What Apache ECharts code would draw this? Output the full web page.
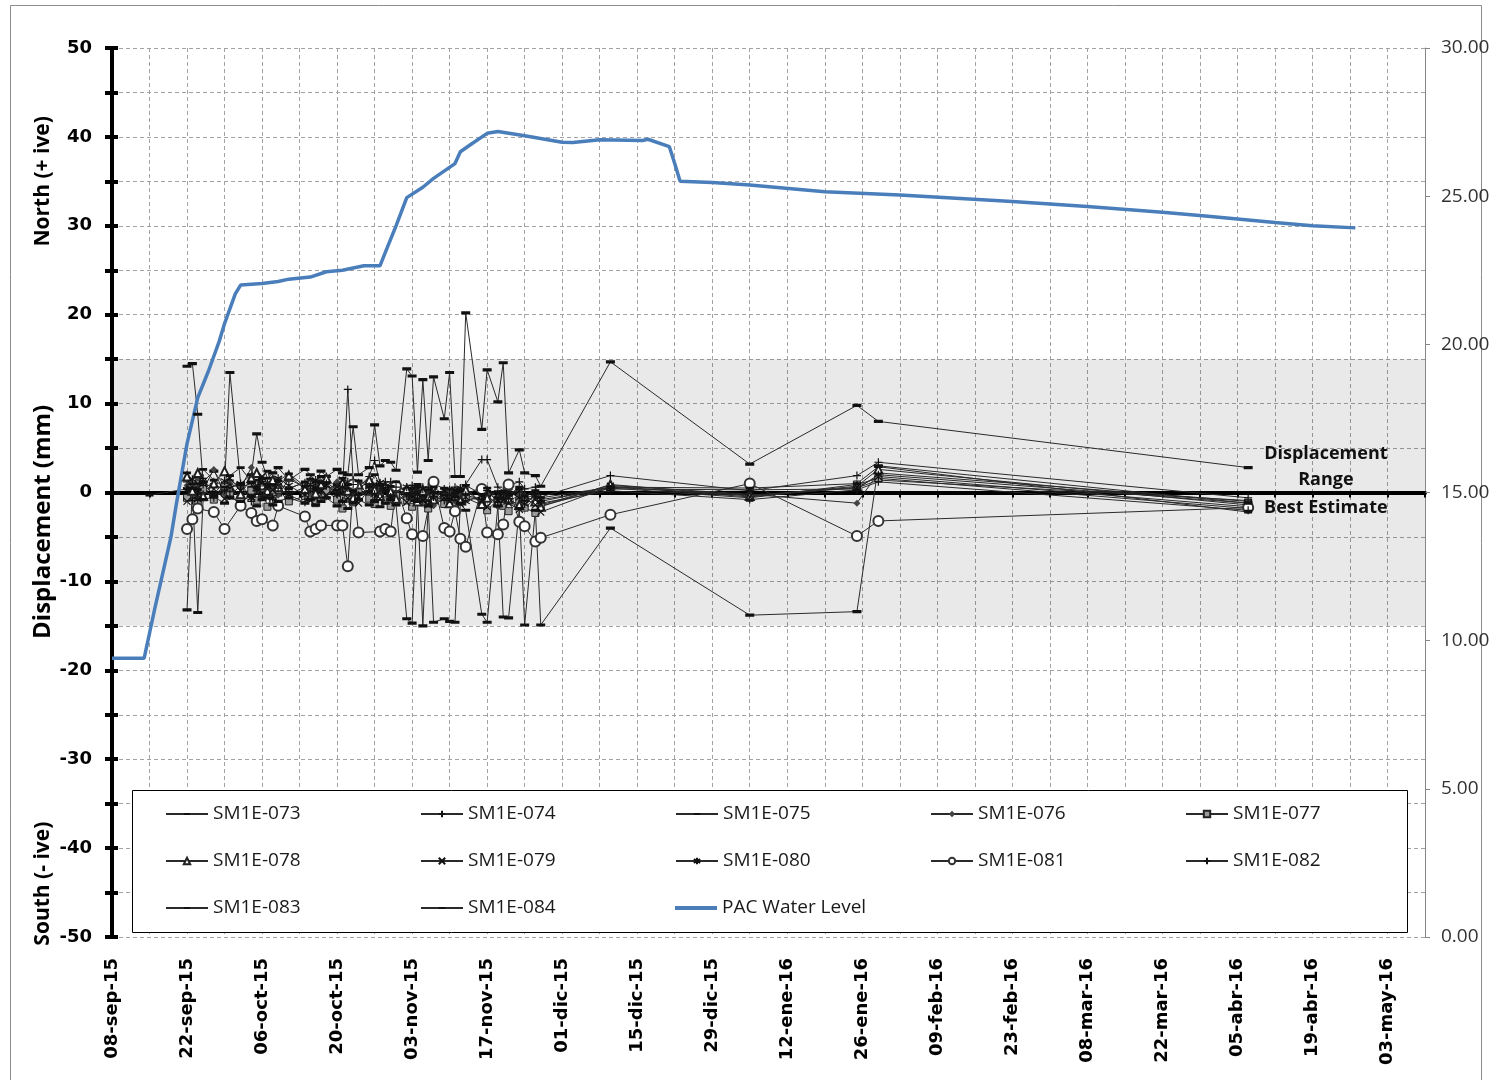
<!DOCTYPE html>
<html>
<head>
<meta charset="utf-8">
<script src="https://cdn.jsdelivr.net/npm/echarts/dist/echarts.min.js"></script>
<style>
  html, body { margin: 0; padding: 0; background: #fff; }
  #chart { width: 1497px; height: 1080px; }
</style>
</head>
<body>
<div id="chart"></div>
<script>
// ---- survey readings (displacement, mm) ----
const surveyDates = [
  '2015-09-15','2015-09-22','2015-09-23','2015-09-24','2015-09-25','2015-09-27','2015-09-29','2015-09-30','2015-10-02','2015-10-04',
  '2015-10-05','2015-10-06','2015-10-07','2015-10-08','2015-10-09','2015-10-11','2015-10-14','2015-10-15','2015-10-16','2015-10-17',
  '2015-10-18','2015-10-20','2015-10-21','2015-10-22','2015-10-23','2015-10-24','2015-10-26','2015-10-27','2015-10-28','2015-10-29',
  '2015-10-30','2015-10-31','2015-11-02','2015-11-03','2015-11-04','2015-11-05','2015-11-06','2015-11-07','2015-11-09','2015-11-10',
  '2015-11-11','2015-11-12','2015-11-13','2015-11-16','2015-11-17','2015-11-19','2015-11-20','2015-11-21','2015-11-23','2015-11-24',
  '2015-11-26','2015-11-27','2015-12-10','2016-01-05','2016-01-25','2016-01-29','2016-04-07'
];

const sm1e073 = [
  null, 14.2, 14.5, 8.8, 1.2, 2.4, 0.8, 13.5, 1.0, 2.0,
  6.6, 3.4, 1.6, 2.2, 2.8, 1.4, 2.6, 2.0, 1.2, 2.4,
  1.8, 2.6, 2.2, 2.0, 7.4, 2.0, 2.8, 7.6, 3.0, 3.6,
  3.4, 2.5, 13.9, 13.1, 2.3, 12.7, 3.6, 13.0, 8.3, 13.5,
  1.8, 1.8, 20.2, 7.1, 13.8, 10.2, 14.6, 2.2, 4.8, 2.2,
  1.9, 0.7, 14.7, 3.2, 9.8, 8.0, 2.8
];
const sm1e074 = [
  null, 1.2, 0.4, 2.0, 0.6, 1.0, 0.2, 1.4, 0.6, 1.0,
  0.4, 1.2, 0.8, 0.2, 0.9, 0.5, 1.1, 0.6, 0.2, 1.0,
  0.4, 0.8, 0.3, 11.6, 1.4, 0.6, 1.8, 3.6, 1.0, 0.4,
  1.2, 0.6, 0.2, 0.8, -0.2, 0.6, 0.2, 1.0, 0.4, -0.3,
  0.6, 0.2, 0.9, 3.7, 3.7, 0.6, 0.2, 0.8, 1.2, 0.4,
  0.6, -0.5, 1.9, 0.2, 1.9, 3.4, -0.6
];
const sm1e075 = [
  -0.3, 0.4, -0.6, 1.0, 0.2, -0.4, 0.8, 0.3, -0.5, 0.6,
  1.4, -0.2, 0.5, 0.9, -0.3, 0.4, 1.2, 0.1, -0.6, 0.7,
  0.3, 1.0, -0.2, 0.5, -0.8, 0.6, 1.1, 0.2, -0.4, 0.8,
  0.3, -0.5, 0.4, -0.9, 0.6, -0.3, 0.2, -1.0, 0.5, -0.6,
  0.3, -0.8, -0.2, 0.6, -0.4, 0.1, -1.1, -0.3, 0.4, -0.7,
  -0.2, -1.0, 0.6, -0.3, 0.5, 1.4, -0.9
];
const sm1e076 = [
  null, 0.8, -0.4, 1.6, 0.3, 2.6, -0.2, 1.0, 0.5, 2.8,
  0.2, -0.6, 1.0, 0.4, -0.3, 1.5, 0.6, -0.2, 0.8, 0.3,
  -0.5, 1.2, 0.6, -0.8, 0.3, 1.0, -0.4, 0.6, 0.2, -0.9,
  0.5, -0.3, -0.8, 0.2, -1.2, -0.4, 0.3, -1.5, -0.6, 0.2,
  -1.0, -0.4, 0.5, -1.2, -0.2, -1.6, -0.7, -1.0, -0.3, -1.8,
  -0.6, -1.4, 0.8, -0.2, -1.2, 2.2, -1.0
];
const sm1e077 = [
  null, -0.6, 0.9, -1.2, 0.4, -0.8, 0.6, -0.3, -1.4, 0.2,
  -0.9, 0.5, -1.6, -0.2, 0.3, -1.0, -0.4, 0.6, -1.2, -0.5,
  0.2, -0.8, -1.8, -0.3, -1.1, 0.4, -0.7, -1.3, -0.2, -0.9,
  -1.5, -0.4, -0.9, -1.6, -0.6, -1.1, -1.8, -0.5, -1.3, -0.8,
  -1.9, -1.0, -0.6, -1.4, -2.0, -0.8, -1.5, -2.1, -1.0, -1.7,
  -2.3, -1.5, 0.5, -0.6, 0.9, 1.6, -1.8
];
const sm1e078 = [
  null, 1.8, 0.2, 2.2, -0.4, 1.0, 2.4, 0.6, -0.2, 1.6,
  2.2, 0.8, 0.2, 1.4, 0.6, 1.9, 0.4, 1.2, -0.1, 0.9,
  1.6, 0.5, 1.1, 0.2, -0.6, 0.9, 1.4, 0.3, -0.4, 0.7,
  0.1, -0.7, 0.4, -0.3, -1.0, 0.2, -0.5, -0.8, -0.2, -1.2,
  -0.4, -0.9, 0.3, -1.3, -0.6, -1.1, -0.3, -0.8, -1.4, -0.5,
  -1.0, -1.6, 0.9, -0.4, 0.7, 2.6, -1.4
];
const sm1e079 = [
  null, -1.0, 0.6, -0.3, 1.2, 0.4, -0.7, 1.6, 0.2, -0.5,
  0.8, 1.8, -0.4, 0.3, 1.3, -0.2, 0.6, -0.9, 0.4, 1.1,
  -0.3, 0.6, 1.4, -0.6, 0.2, -1.2, 0.4, 0.9, -0.7, 0.2,
  -0.4, 0.5, -1.1, -0.3, 0.4, -0.9, -1.4, 0.2, -0.6, -1.0,
  0.2, -1.3, -0.5, -0.9, -1.6, -0.2, -0.8, -1.2, -1.9, -0.6,
  -1.4, -2.2, 0.7, -0.5, 0.6, 1.8, -1.6
];
const sm1e080 = [
  null, 0.3, 1.5, -0.8, 0.9, -0.2, 1.3, 0.5, 1.0, -0.6,
  0.4, 1.1, 0.7, -0.5, 1.6, 0.8, -0.3, 0.9, 1.4, 0.2,
  0.8, -0.2, 0.6, 1.2, 0.4, -0.5, 0.7, -0.2, 1.1, 0.5,
  -0.6, 0.3, 0.6, -0.5, -0.2, 0.4, -0.9, -0.3, 0.2, -0.7,
  -0.2, 0.5, -1.0, -0.4, 0.3, -0.9, -0.5, 0.1, -0.6, -1.3,
  -0.3, -0.8, 0.4, 0.3, 0.4, 2.0, -1.2
];
const sm1e081 = [
  null, -4.1, -3.0, -1.8, null, -2.2, -4.1, null, -1.5, -2.3,
  -3.2, -3.0, null, -3.7, -1.5, null, -2.7, -4.4, -4.1, -3.7,
  null, -3.7, -3.7, -8.3, 0.9, -4.5, null, null, -4.4, -4.1,
  -4.4, 0.7, -2.9, -4.7, null, -4.9, null, 1.2, -4.0, -4.4,
  -2.1, -5.2, -6.1, 0.4, -4.5, -4.7, -3.6, 0.9, -3.3, -3.8,
  -5.5, -5.1, -2.5, 1.0, -4.9, -3.2, -1.7
];
const sm1e082 = [
  null, 0.5, -0.9, 0.4, 1.6, -0.6, 0.3, -0.4, 0.8, -1.0,
  0.2, -0.5, 1.0, -0.8, 0.5, -0.3, -1.1, 0.4, 0.6, -0.6,
  1.0, -0.2, -0.9, 0.5, 0.9, -0.3, 0.2, -0.8, 0.5, 1.2,
  -0.5, 0.6, -0.4, 0.3, -0.7, -1.0, 0.6, -0.5, -0.9, 0.3,
  -0.6, 0.4, -0.3, -0.8, 0.2, -1.1, -0.2, -0.7, 0.3, -0.9,
  -0.5, -1.2, 0.2, -0.8, 0.3, 1.2, -2.0
];
const sm1e083 = [
  null, 2.2, 1.0, 0.3, 2.6, 1.4, 0.6, 1.9, 2.8, 1.2,
  0.5, 1.6, 2.4, 0.8, 1.3, 2.1, 0.7, 1.5, 0.4, 1.8,
  1.1, 0.3, 1.6, 0.9, 0.2, 1.3, 0.6, 2.0, 0.8, 0.1,
  0.7, 1.2, -0.2, 0.5, 0.9, -0.4, 0.3, 0.6, -0.3, 0.4,
  -0.5, 0.2, 0.8, -0.2, 0.5, -0.6, 0.1, -0.3, 0.6, -0.4,
  0.2, -0.6, 0.6, 0.5, 1.0, 2.9, -2.2
];
const sm1e084 = [
  null, -13.2, 0.5, -13.5, -0.8, -0.5, -1.2, -0.6, -1.0, -0.4,
  -1.5, -0.8, -0.6, -1.4, -1.0, -0.6, -1.2, -0.8, -1.4, -1.0,
  -0.6, -1.5, -1.0, -1.8, -1.2, -0.8, -1.4, -1.0, -1.6, -1.2,
  -0.8, -1.4, -14.2, -14.7, -1.0, -15.0, -1.5, -14.6, -14.2, -14.5,
  -14.6, -1.2, -2.0, -13.7, -14.6, -1.5, -14.0, -14.1, -1.8, -14.9,
  -2.0, -14.9, -4.0, -13.8, -13.4, 3.0, -1.2
];

// ---- PAC water level (right axis) ----
const pacDates = [
  '2015-09-08','2015-09-14','2015-09-15','2015-09-16','2015-09-19','2015-09-20','2015-09-22','2015-09-24','2015-09-26','2015-09-28',
  '2015-09-29','2015-10-01','2015-10-02','2015-10-06','2015-10-09','2015-10-11','2015-10-15','2015-10-18','2015-10-21','2015-10-25',
  '2015-10-28','2015-10-29','2015-10-31','2015-11-02','2015-11-05','2015-11-07','2015-11-11','2015-11-12','2015-11-14','2015-11-17',
  '2015-11-19','2015-11-24','2015-12-01','2015-12-03','2015-12-08','2015-12-16','2015-12-17','2015-12-21','2015-12-22','2015-12-23',
  '2015-12-29','2016-01-05','2016-01-19','2016-02-02','2016-02-23','2016-03-08','2016-03-22','2016-03-30','2016-04-12','2016-04-19',
  '2016-04-27'
];
const pacLevel = [
  9.41, 9.41, 10.25, 11.1, 13.5, 14.6, 16.65, 18.2, 19.1, 20.1,
  20.7, 21.7, 22.0, 22.05, 22.12, 22.2, 22.27, 22.45, 22.5, 22.65,
  22.65, 23.1, 24.0, 24.95, 25.3, 25.6, 26.1, 26.5, 26.75, 27.12,
  27.18, 27.04, 26.82, 26.81, 26.9, 26.88, 26.92, 26.67, 26.1, 25.5,
  25.46, 25.38, 25.15, 25.04, 24.82, 24.65, 24.46, 24.33, 24.11, 24.0,
  23.93
];

// ---- axes ----
const axisStart = '2015-09-08';
const axisEnd = '2016-05-10';
const dispTicks = [-50, 50, 10];     // min, max, labelled step
const levelTicks = [0, 30, 5];
const displacementRange = [-15, 15];

const DAY = 86400000;
const t0 = Date.parse(axisStart);
const toDay = s => Math.round((Date.parse(s) - t0) / DAY);
const MONTHS = ['ene','feb','mar','abr','may','jun','jul','ago','sep','oct','nov','dic'];
const pad = n => (n < 10 ? '0' : '') + n;
function dayLabel(d) {
  const dt = new Date(t0 + d * DAY);
  return pad(dt.getUTCDate()) + '-' + MONTHS[dt.getUTCMonth()] + '-' + String(dt.getUTCFullYear()).slice(2);
}

// marker shapes
const DASH = 'path://M0,0L0.01,0M0,8L0.01,8M0,2.6H8V5.4H0Z';
const PLUS = 'path://M4,0V8M0,4H8';
const CROSS = 'path://M0,0L8,8M8,0L0,8';
const STAR = 'path://M4,0V8M0,1.6L8,6.4M8,1.6L0,6.4';

const stroked = { color: '#111', borderColor: '#111', borderWidth: 1.2 };
const solidDash = { color: '#111', borderWidth: 0 };
const monuments = [
  { name: 'SM1E-073', values: sm1e073, symbol: DASH, size: 9, item: solidDash },
  { name: 'SM1E-074', values: sm1e074, symbol: PLUS, size: 8, item: stroked },
  { name: 'SM1E-075', values: sm1e075, symbol: DASH, size: 8, item: solidDash },
  { name: 'SM1E-076', values: sm1e076, symbol: 'diamond', size: 7, item: { color: '#444', borderWidth: 0 } },
  { name: 'SM1E-077', values: sm1e077, symbol: 'rect', size: 7, item: { color: '#9a9a9a', borderColor: '#222', borderWidth: 1 } },
  { name: 'SM1E-078', values: sm1e078, symbol: 'emptyTriangle', size: 8, item: { color: '#222', borderWidth: 1 } },
  { name: 'SM1E-079', values: sm1e079, symbol: CROSS, size: 7, item: stroked },
  { name: 'SM1E-080', values: sm1e080, symbol: STAR, size: 8, item: stroked },
  { name: 'SM1E-081', values: sm1e081, symbol: 'emptyCircle', size: 10, item: { color: '#333', borderWidth: 2 } },
  { name: 'SM1E-082', values: sm1e082, symbol: PLUS, size: 8, item: stroked },
  { name: 'SM1E-083', values: sm1e083, symbol: DASH, size: 8, item: solidDash },
  { name: 'SM1E-084', values: sm1e084, symbol: DASH, size: 9, item: solidDash }
];

const surveyDays = surveyDates.map(toDay);
const dayMax = toDay(axisEnd);

const series = [];
// shaded displacement range band
series.push({
  name: 'band', type: 'line', z: 1, silent: true, symbol: 'none',
  data: [[0, 0]], lineStyle: { opacity: 0 },
  markArea: {
    silent: true,
    itemStyle: { color: 'rgba(0,0,0,0.085)' },
    data: [[{ yAxis: displacementRange[0] }, { yAxis: displacementRange[1] }]]
  }
});
monuments.forEach(m => {
  series.push({
    name: m.name, type: 'line', xAxisIndex: 0, yAxisIndex: 0,
    symbol: m.symbol, symbolSize: m.size, showAllSymbol: true,
    lineStyle: { color: '#2a2a2a', width: 1 },
    itemStyle: m.item,
    data: surveyDays.map((d, i) => (m.values[i] == null ? null : [d, m.values[i]])).filter(Boolean)
  });
});
series.push({
  name: 'PAC Water Level', type: 'line', xAxisIndex: 0, yAxisIndex: 1, z: 3,
  symbol: 'none', lineStyle: { color: '#4a7ebb', width: 3.5 },
  itemStyle: { color: '#4a7ebb' },
  data: pacDates.map((s, i) => [toDay(s), pacLevel[i]])
});

const legendText = { fontFamily: 'Open Sans', fontSize: 19, color: '#1a1a1a', lineHeight: 20 };
const legendCols = [
  ['SM1E-073', 'SM1E-078', 'SM1E-083'],
  ['SM1E-074', 'SM1E-079', 'SM1E-084'],
  ['SM1E-075', 'SM1E-080'],
  ['SM1E-076', 'SM1E-081'],
  ['SM1E-077', 'SM1E-082']
];
const legends = legendCols.map((names, c) => ({
  orient: 'vertical', left: 165 + 255 * c, top: 804, padding: 0,
  itemWidth: 42, itemHeight: 8, itemGap: 27, selectedMode: false,
  textStyle: legendText, data: names
}));
legends.push({
  orient: 'vertical', left: 165 + 255 * 2, top: 898, padding: 0,
  itemWidth: 42, itemHeight: 4, selectedMode: false, icon: 'rect',
  textStyle: legendText, data: ['PAC Water Level']
});

const gridDash = { color: '#a3a3a3', width: 1, type: [4, 3] };
const boldAxisFont = { fontFamily: 'DejaVu Sans', fontWeight: 'bold', fontSize: 18, color: '#000' };

const chart = echarts.init(document.getElementById('chart'), null, { renderer: 'canvas' });
chart.setOption({
  animation: false,
  backgroundColor: '#fff',
  grid: { left: 112, right: 72, top: 48, bottom: 143, containLabel: false },
  xAxis: [
    {
      type: 'value', min: 0, max: dayMax, interval: 7, position: 'bottom',
      axisLine: { show: false, onZero: false },
      axisTick: { show: false },
      splitLine: { show: true, lineStyle: gridDash },
      axisLabel: Object.assign({
        rotate: 90, margin: 21,
        formatter: v => (v % 14 === 0 ? dayLabel(v) : '')
      }, boldAxisFont)
    },
    {
      type: 'value', min: 0, max: dayMax, interval: 7, position: 'bottom',
      axisLine: { show: true, onZero: true, onZeroAxisIndex: 0, lineStyle: { color: '#000', width: 4 } },
      axisTick: { show: true, length: 5, lineStyle: { color: '#000', width: 2 } },
      axisLabel: { show: false }, splitLine: { show: false }
    }
  ],
  yAxis: [
    {
      type: 'value', min: dispTicks[0], max: dispTicks[1], interval: 5, position: 'left',
      axisLine: { show: true, onZero: false, lineStyle: { color: '#000', width: 4 } },
      axisTick: { show: true, length: 7, lineStyle: { color: '#000', width: 4 } },
      splitLine: { show: true, lineStyle: gridDash },
      axisLabel: Object.assign({ margin: 20, formatter: v => (v % dispTicks[2] === 0 ? String(v) : '') }, boldAxisFont)
    },
    {
      type: 'value', min: levelTicks[0], max: levelTicks[1], interval: levelTicks[2], position: 'right',
      axisLine: { show: true, onZero: false, lineStyle: { color: '#868686', width: 1 } },
      axisTick: { show: true, length: 5, lineStyle: { color: '#868686' } },
      splitLine: { show: false },
      axisLabel: { margin: 16, fontFamily: 'Open Sans', fontSize: 19, color: '#333', formatter: v => v.toFixed(2) }
    },
    {
      type: 'value', min: dispTicks[0], max: dispTicks[1], interval: 5, position: 'left',
      axisLine: { show: false, onZero: false },
      axisTick: { show: true, inside: true, length: 6, lineStyle: { color: '#000', width: 4 } },
      splitLine: { show: false }, axisLabel: { show: false }
    }
  ],
  legend: legends,
  series: series
});

// annotations placed from data coordinates
const at = (d, v) => chart.convertToPixel({ xAxisIndex: 0, yAxisIndex: 0 }, [d, v]);
const noteFont = 'bold 18px "Open Sans"';
const notes = [
  { text: 'Displacement', pos: at(226.5, 4.3) },
  { text: 'Range', pos: at(226.5, 1.4) },
  { text: 'Best Estimate', pos: at(226.5, -1.7) }
];
const titleFont = n => 'bold ' + n + 'px "Open Sans"';
const axisTitles = [
  { text: 'North (+ ive)', y: at(0, 35)[1], size: 21 },
  { text: 'Displacement (mm)', y: at(0, -3.3)[1], size: 24 },
  { text: 'South (- ive)', y: at(0, -44)[1], size: 21 }
];

chart.setOption({
  graphic: [
    {
      type: 'rect', z: 0, silent: true,
      shape: { x: 10.5, y: 5.5, width: 1471, height: 1090 },
      style: { fill: 'none', stroke: '#8c8c8c', lineWidth: 1 }
    },
    {
      type: 'rect', z: 3, silent: true,
      shape: { x: 132.5, y: 790.5, width: 1275, height: 142 },
      style: { fill: '#fff', stroke: '#000', lineWidth: 1 }
    }
  ].concat(notes.map(n => ({
    type: 'text', z: 5, silent: true, x: n.pos[0], y: n.pos[1],
    style: { text: n.text, font: noteFont, fill: '#111', align: 'center', verticalAlign: 'middle', textAlign: 'center', textVerticalAlign: 'middle' }
  }))).concat(axisTitles.map(t => ({
    type: 'text', z: 5, silent: true, x: 43, y: t.y, rotation: Math.PI / 2,
    style: { text: t.text, font: titleFont(t.size), fill: '#000', align: 'center', verticalAlign: 'middle', textAlign: 'center', textVerticalAlign: 'middle' }
  })))
});
</script>
</body>
</html>
